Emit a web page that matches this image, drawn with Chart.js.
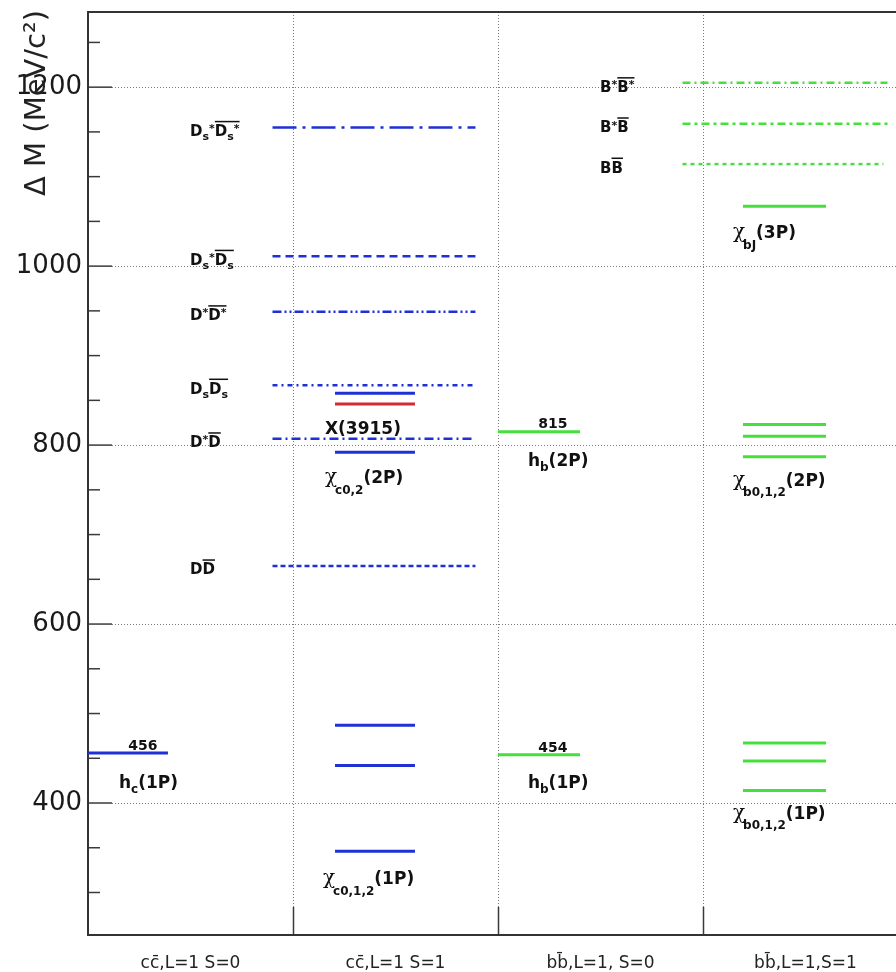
<!DOCTYPE html>
<html>
<head>
<meta charset="utf-8">
<title>P-wave quarkonium levels</title>
<script src="https://cdn.jsdelivr.net/npm/chart.js@4.4.1/dist/chart.umd.min.js"></script>
<style>
html, body { margin: 0; padding: 0; background: #fff; overflow: hidden; }
canvas { display: block; }
</style>
</head>
<body>
<canvas id="levels" width="896" height="972"></canvas>
<script>
// column titles along the bottom
const columns = ['cc\u0304,L=1 S=0', 'cc\u0304,L=1 S=1', 'bb\u0304,L=1, S=0', 'bb\u0304,L=1,S=1'];

// y axis ticks, MeV/c^2
const majorTicks = [400, 600, 800, 1000, 1200];
const minorTicks = [300, 350, 450, 500, 550, 650, 700, 750, 850, 900, 950, 1050, 1100, 1150, 1250];

// levels, Delta M in MeV/c^2
const hcLevels = [456];
const chic1P = [346, 442, 487];
const chic2P = [792, 858];
const x3915 = [846];
const hbLevels = [454, 815];
const chib1P = [414, 447, 467];
const chib2P = [787, 810, 823];
const chib3P = [1067];

// open flavour thresholds
const charmThresholds = [665, 807, 867, 949, 1011, 1155];   // DD, D*D, DsDs, D*D*, Ds*Ds, Ds*Ds*
const bottomThresholds = [1114, 1159, 1205];               // BB, B*B, B*B*

const BLUE = '#1f30d4';
const RED = '#d42a30';
const GREEN = '#46e03c';

const charmDash = [[5, 3], [9, 4, 2, 4], [5, 4, 2, 4], [9, 3, 2, 3, 2, 3], [8, 5], [24, 6, 3, 6]];
const bottomDash = [[4, 4], [8, 4, 3, 4], [8, 4, 2, 4]];

function level(v, x0, x1, color, dash, width) {
  return {
    data: [{ x: x0, y: v }, { x: x1, y: v }],
    borderColor: color,
    borderWidth: width || 3,
    borderDash: dash || [],
    pointRadius: 0,
    fill: false
  };
}

const datasets = [];
hcLevels.forEach(v => datasets.push(level(v, 0, 0.39, BLUE)));
chic1P.forEach(v => datasets.push(level(v, 1.205, 1.595, BLUE)));
chic2P.forEach(v => datasets.push(level(v, 1.205, 1.595, BLUE)));
x3915.forEach(v => datasets.push(level(v, 1.205, 1.595, RED)));
charmThresholds.forEach((v, i) => datasets.push(level(v, 0.9, 1.89, BLUE, charmDash[i], 2.5)));
hbLevels.forEach(v => datasets.push(level(v, 2.0, 2.4, GREEN)));
chib1P.forEach(v => datasets.push(level(v, 3.195, 3.6, GREEN)));
chib2P.forEach(v => datasets.push(level(v, 3.195, 3.6, GREEN)));
chib3P.forEach(v => datasets.push(level(v, 3.195, 3.6, GREEN)));
bottomThresholds.forEach((v, i) => datasets.push(level(v, 2.9, i === 0 ? 3.88 : 3.9, GREEN, bottomDash[i], 2.5)));

// text pieces: [text, kind, overline]  kind: n main, d sub, D deep sub, u sup, g greek
const bar = (t, k) => [t, k || 'n', 1];
const texts = [
  { parts: [['D'], ['s', 'd'], ['*', 'u'], bar('D'), bar('s', 'd'), bar('*', 'u')], x: 0.498, y: charmThresholds[5], dy: 3, size: 15 },
  { parts: [['D'], ['s', 'd'], ['*', 'u'], bar('D'), bar('s', 'd')], x: 0.498, y: charmThresholds[4], dy: 3, size: 15 },
  { parts: [['D'], ['*', 'u'], bar('D'), bar('*', 'u')], x: 0.498, y: charmThresholds[3], dy: 3, size: 15 },
  { parts: [['D'], ['s', 'd'], bar('D'), bar('s', 'd')], x: 0.498, y: charmThresholds[2], dy: 3, size: 15 },
  { parts: [['D'], ['*', 'u'], bar('D')], x: 0.498, y: charmThresholds[1], dy: 3, size: 15 },
  { parts: [['D'], bar('D')], x: 0.498, y: charmThresholds[0], dy: 3, size: 15 },
  { parts: [['B'], ['*', 'u'], bar('B'), bar('*', 'u')], x: 2.498, y: bottomThresholds[2], dy: 4, size: 15 },
  { parts: [['B'], ['*', 'u'], bar('B')], x: 2.498, y: bottomThresholds[1], dy: 3, size: 15 },
  { parts: [['B'], bar('B')], x: 2.498, y: bottomThresholds[0], dy: 3, size: 15 },

  { parts: [[String(hcLevels[0])]], x: 0.268, y: hcLevels[0], dy: -8, size: 14, align: 'center' },
  { parts: [['h'], ['c', 'd'], ['(1P)']], x: 0.151, y: hcLevels[0], dy: 29, size: 17 },
  { parts: [['\u03c7', 'g'], ['c0,1,2', 'D'], ['(1P)']], x: 1.146, y: chic1P[0], dy: 27, size: 17 },
  { parts: [['X(3915)']], x: 1.156, y: x3915[0], dy: 24, size: 17 },
  { parts: [['\u03c7', 'g'], ['c0,2', 'D'], ['(2P)']], x: 1.156, y: chic2P[0], dy: 25, size: 17 },
  { parts: [[String(hbLevels[0])]], x: 2.268, y: hbLevels[0], dy: -8, size: 14, align: 'center' },
  { parts: [['h'], ['b', 'd'], ['(1P)']], x: 2.146, y: hbLevels[0], dy: 27, size: 17 },
  { parts: [[String(hbLevels[1])]], x: 2.268, y: hbLevels[1], dy: -9, size: 14, align: 'center' },
  { parts: [['h'], ['b', 'd'], ['(2P)']], x: 2.146, y: hbLevels[1], dy: 28, size: 17 },
  { parts: [['\u03c7', 'g'], ['b0,1,2', 'D'], ['(2P)']], x: 3.146, y: chib2P[0], dy: 23, size: 17 },
  { parts: [['\u03c7', 'g'], ['b0,1,2', 'D'], ['(1P)']], x: 3.146, y: chib1P[0], dy: 22, size: 17 },
  { parts: [['\u03c7', 'g'], ['bJ', 'D'], ['(3P)']], x: 3.146, y: chib3P[0], dy: 26, size: 17 }
];

function partFont(kind, size) {
  if (kind === 'g') return `${Math.round(size * 1.2)}px "DejaVu Serif"`;
  if (kind === 'n') return `bold ${size}px "DejaVu Sans"`;
  return `bold ${Math.round(size * 0.7)}px "DejaVu Sans"`;
}

function drawRich(ctx, item, px, py) {
  const size = item.size;
  const base = py + size * 0.36;
  let total = 0;
  item.parts.forEach(p => { ctx.font = partFont(p[1] || 'n', size); total += ctx.measureText(p[0]).width; });
  let cx = item.align === 'center' ? px - total / 2 : px;
  let b0 = null, b1 = null;
  ctx.textAlign = 'left';
  ctx.textBaseline = 'alphabetic';
  item.parts.forEach(p => {
    const kind = p[1] || 'n';
    ctx.font = partFont(kind, size);
    let off = 0;
    if (kind === 'd') off = size * 0.28;
    if (kind === 'D') off = size * 0.62;
    if (kind === 'u') off = -size * 0.25;
    const w = ctx.measureText(p[0]).width;
    ctx.fillText(p[0], cx, base + off);
    if (p[2]) { if (b0 === null) b0 = cx; b1 = cx + w; }
    cx += kind === 'g' ? w - 2 : w;
  });
  if (b0 !== null) ctx.fillRect(b0, base - size * 1.0, b1 - b0, 1.5);
}

const framePlugin = {
  id: 'frame',
  beforeDatasetsDraw(chart) {
    const { ctx, chartArea: a, scales: { x, y } } = chart;
    const seg = (x0, y0, x1, y1) => { ctx.beginPath(); ctx.moveTo(x0, y0); ctx.lineTo(x1, y1); ctx.stroke(); };
    ctx.save();
    // dotted grid
    ctx.strokeStyle = '#7a7a7a';
    ctx.lineWidth = 1;
    ctx.setLineDash([1, 2]);
    majorTicks.forEach(v => {
      const py = Math.round(y.getPixelForValue(v)) + 0.5;
      seg(a.left + 24, py, a.right, py);
    });
    for (let k = 1; k < columns.length; k++) {
      const px = Math.round(x.getPixelForValue(k)) + 0.5;
      seg(px, a.top, px, a.bottom - 28);
    }
    ctx.setLineDash([]);
    // tick marks
    ctx.strokeStyle = '#3a3a3a';
    ctx.lineWidth = 1.5;
    majorTicks.forEach(v => { const py = y.getPixelForValue(v); seg(a.left, py, a.left + 24, py); });
    minorTicks.forEach(v => { const py = y.getPixelForValue(v); seg(a.left, py, a.left + 12, py); });
    for (let k = 1; k < columns.length; k++) {
      const px = Math.round(x.getPixelForValue(k)) + 0.5;
      seg(px, a.bottom, px, a.bottom - 28);
    }
    // frame
    ctx.strokeStyle = '#333';
    ctx.lineWidth = 2;
    ctx.beginPath();
    ctx.moveTo(a.right, a.top);
    ctx.lineTo(a.left, a.top);
    ctx.lineTo(a.left, a.bottom);
    ctx.lineTo(a.right, a.bottom);
    ctx.stroke();
    ctx.restore();
  },
  afterDraw(chart) {
    const { ctx, chartArea: a, scales: { x, y } } = chart;
    ctx.save();
    ctx.fillStyle = '#111';
    texts.forEach(t => drawRich(ctx, t, x.getPixelForValue(t.x), y.getPixelForValue(t.y) + t.dy));
    // y axis title, right aligned to the top of the frame
    ctx.translate(37, a.top - 2);
    ctx.rotate(-Math.PI / 2);
    ctx.font = '29px "DejaVu Sans"';
    ctx.fillStyle = '#222';
    ctx.textAlign = 'right';
    ctx.textBaseline = 'middle';
    ctx.fillText('\u0394 M (MeV/c\u00b2)', 0, 0);
    ctx.restore();
  }
};

const noPad = (s) => { s.paddingTop = 0; s.paddingBottom = 0; s.paddingLeft = 0; s.paddingRight = 0; };

new Chart(document.getElementById('levels'), {
  type: 'line',
  data: { datasets },
  options: {
    responsive: false,
    animation: false,
    layout: { padding: { top: 12, right: 0, bottom: 0, left: 0 } },
    plugins: { legend: { display: false }, tooltip: { enabled: false } },
    scales: {
      x: {
        type: 'linear',
        min: 0,
        max: 3.9415,
        grid: { display: false, drawTicks: false },
        border: { display: false },
        afterBuildTicks: (s) => { s.ticks = columns.map((c, i) => ({ value: i + 0.5 })); },
        afterFit: (s) => { s.height = 37; noPad(s); },
        ticks: {
          autoSkip: false,
          maxRotation: 0,
          padding: 18,
          color: '#222',
          font: { family: 'DejaVu Sans', size: 17 },
          callback: (v) => columns[Math.floor(v)]
        }
      },
      y: {
        min: 252.5,
        max: 1284,
        grid: { display: false, drawTicks: false },
        border: { display: false },
        afterBuildTicks: (s) => {
          s.ticks = minorTicks.concat(majorTicks).sort((p, q) => p - q).map(v => ({ value: v }));
        },
        afterFit: (s) => { s.width = 88; noPad(s); },
        ticks: {
          autoSkip: false,
          padding: 6,
          color: '#1a1a1a',
          font: { family: 'DejaVu Sans', size: 26 },
          callback: (v) => majorTicks.includes(v) ? String(v) : ''
        }
      }
    }
  },
  plugins: [framePlugin]
});
</script>
</body>
</html>
